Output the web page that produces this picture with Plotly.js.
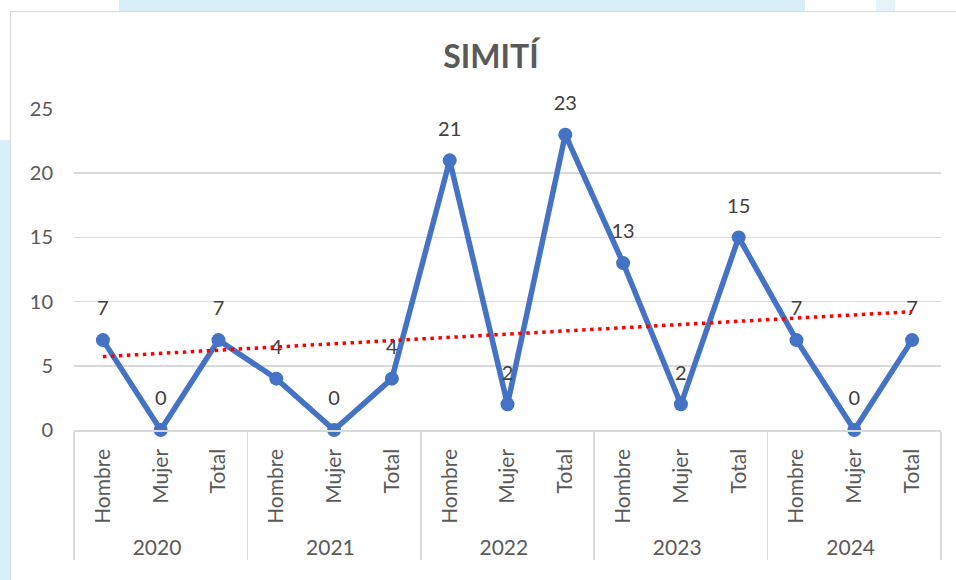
<!DOCTYPE html>
<html>
<head>
<meta charset="utf-8">
<script src="https://cdn.plot.ly/plotly-3.0.1.min.js"></script>
<style>html,body{margin:0;padding:0;background:#fff;}#chart{width:956px;height:580px;}</style>
</head>
<body>
<div id="chart"></div>
<script>
// ---- data ----
const years = ['2020','2020','2020','2021','2021','2021','2022','2022','2022','2023','2023','2023','2024','2024','2024'];
const groups = ['Hombre','Mujer','Total','Hombre','Mujer','Total','Hombre','Mujer','Total','Hombre','Mujer','Total','Hombre','Mujer','Total'];
const values = [7,0,7,4,0,4,21,2,23,13,2,15,7,0,7];
const titleText = 'SIMITÍ';

// linear trendline (least squares over the series, as the spreadsheet does)
const n = values.length;
const mx = (n - 1) / 2;
const my = values.reduce((a,b)=>a+b,0) / n;
let sxy = 0, sxx = 0;
values.forEach((v,i)=>{ sxy += (i-mx)*(v-my); sxx += (i-mx)*(i-mx); });
const slope = sxy / sxx;
const trendY = [my + slope*(0-mx), my + slope*(n-1-mx)];

const FONT = 'Lato, "Open Sans", sans-serif';

const main = {
  type: 'scatter', mode: 'lines+markers',
  x: [years, groups], y: values,
  line: {color: '#4472C4', width: 5.5},
  marker: {color: '#4472C4', size: 14},
  hoverinfo: 'y', showlegend: false, cliponaxis: false
};
// data labels (same data; an invisible larger marker sets the label gap)
const labels = {
  type: 'scatter', mode: 'markers+text',
  x: [years, groups], y: values,
  text: values.map(String), textposition: 'top center',
  textfont: {family: FONT, size: 20, color: '#404040'},
  marker: {color: 'rgba(0,0,0,0)', size: 30},
  hoverinfo: 'skip', showlegend: false, cliponaxis: false
};
const trend = {
  type: 'scatter', mode: 'lines',
  x: [[years[0], years[n-1]], [groups[0], groups[n-1]]], y: trendY,
  line: {color: '#FF0000', width: 3.5, dash: '3.5px,4.5px'},
  hoverinfo: 'skip', showlegend: false
};

const L = 74, R = 941, T = 109, B = 430, W = 956, H = 580;
const px = v => (v - L) / (R - L);
const py = v => (B - v) / (B - T);

const layout = {
  width: W, height: H,
  margin: {l: L, r: W - R, t: T, b: H - B},
  paper_bgcolor: '#ffffff', plot_bgcolor: 'rgba(0,0,0,0)',
  font: {family: FONT, color: '#595959'},
  title: {text: titleText, font: {family: FONT, size: 32, color: '#595959', weight: 'bold'},
          x: px(491), xref: 'paper', xanchor: 'center', y: 1 - 57/H, yanchor: 'middle'},
  xaxis: {
    type: 'multicategory', range: [-0.5, n - 0.5], autorange: false, automargin: false,
    showgrid: false, showline: true, linecolor: '#d9d9d9', linewidth: 1.5,
    tickangle: -90, tickfont: {family: FONT, size: 21, color: '#595959'}, ticklabelstandoff: 9,
    showdividers: true, dividercolor: '#d9d9d9', dividerwidth: 1.5,
    ticks: '', zeroline: false
  },
  yaxis: {
    range: [0, 25], dtick: 5, tick0: 0, showgrid: true, gridcolor: '#d9d9d9', gridwidth: 1.5,
    zeroline: false, showline: false, ticks: '', ticklabelstandoff: 20, automargin: false,
    tickfont: {family: FONT, size: 20, color: '#595959'}
  },
  shapes: [
    {type: 'rect', xref: 'paper', yref: 'paper', x0: px(119), x1: px(805), y0: py(11), y1: py(0),
     fillcolor: '#d9eff7', line: {width: 0}, layer: 'below'},
    {type: 'rect', xref: 'paper', yref: 'paper', x0: px(876), x1: px(895), y0: py(11), y1: py(0),
     fillcolor: '#e6f4fa', line: {width: 0}, layer: 'below'},
    {type: 'rect', xref: 'paper', yref: 'paper', x0: px(0), x1: px(10), y0: py(580), y1: py(140),
     fillcolor: '#d9eff7', line: {width: 0}, layer: 'below'},
    {type: 'rect', xref: 'paper', yref: 'paper', x0: px(10.5), x1: px(960), y0: py(584), y1: py(11.5),
     fillcolor: '#ffffff', line: {color: '#d9d9d9', width: 1.2}, layer: 'below'}
  ]
};

Plotly.newPlot('chart', [main, labels, trend], layout, {displayModeBar: false, staticPlot: true});
</script>
</body>
</html>
